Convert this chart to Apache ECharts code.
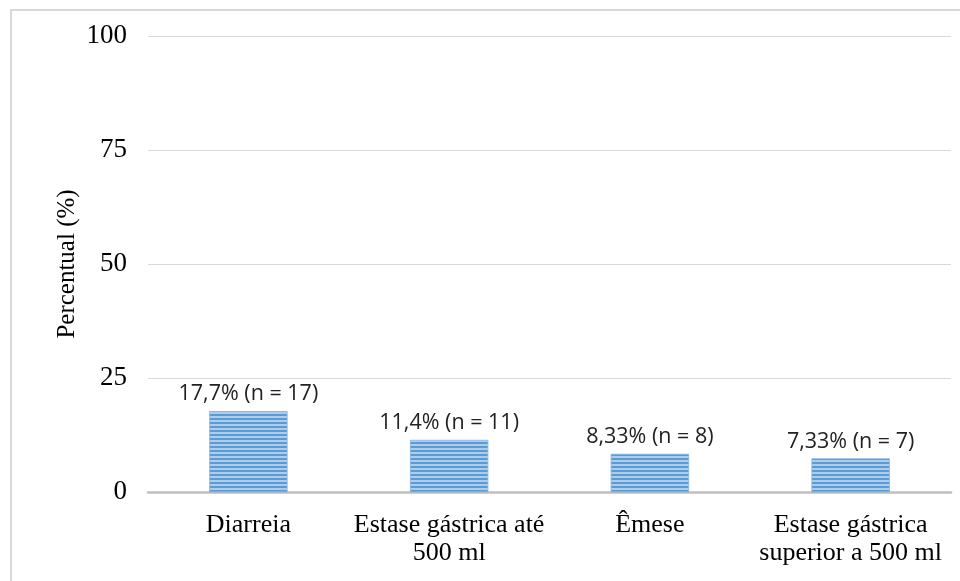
<!DOCTYPE html>
<html><head><meta charset="utf-8">
<script src="https://cdn.jsdelivr.net/npm/echarts@6/dist/echarts.min.js"></script>
<style>html,body{margin:0;padding:0;background:#fff}#c{width:960px;height:581px}</style>
</head><body><div id="c"></div>
<script>
var categories = ['Diarreia', 'Estase gástrica até\n500 ml', 'Êmese', 'Estase gástrica\nsuperior a 500 ml'];
var values = [17.7, 11.4, 8.33, 7.33];
var barLabels = ['17,7% (n = 17)', '11,4% (n = 11)', '8,33% (n = 8)', '7,33% (n = 7)'];
var yTicks = [0, 25, 50, 75, 100];

var chart = echarts.init(document.getElementById('c'), null, {renderer: 'canvas'});
chart.setOption({
  backgroundColor: '#fff',
  animation: false,
  graphic: [{
    type: 'polyline', shape: {points: [[11, 600], [11, 10], [980, 10]]},
    style: {stroke: '#d9d9d9', lineWidth: 2, fill: null}
  }],
  grid: {left: 148, right: 9, top: 36, bottom: 89, containLabel: false},
  xAxis: {
    type: 'category', data: categories,
    axisLine: {lineStyle: {color: '#bfbfbf', width: 2.5}},
    axisTick: {show: false},
    axisLabel: {color: '#000', fontFamily: 'Liberation Serif', fontSize: 26, lineHeight: 28, margin: 19,
      interval: 0, hideOverlap: false}
  },
  yAxis: {
    type: 'value', min: 0, max: 100, interval: 25,
    name: 'Percentual (%)', nameLocation: 'middle', nameGap: 68, nameMoveOverlap: false,
    nameTextStyle: {color: '#000', fontFamily: 'Liberation Serif', fontSize: 25},
    axisLine: {show: false}, axisTick: {show: false},
    axisLabel: {color: '#000', fontFamily: 'Liberation Serif', fontSize: 27, margin: 21,
      formatter: function (v) { return yTicks.indexOf(v) >= 0 ? String(v) : ''; }},
    splitLine: {lineStyle: {color: '#d9d9d9', width: 1}}
  },
  series: [{
    type: 'bar', data: values, barWidth: 78,
    itemStyle: {
      color: '#5b9bd5',
      borderColor: '#7fb0e0', borderWidth: 0.5,
      decal: {symbol: 'rect', symbolSize: 1, dashArrayX: [1, 0], dashArrayY: [2, 2], rotation: 0, color: 'rgba(255,255,255,0.5)'}
    },
    label: {
      show: true, position: 'top', distance: 6, color: '#222',
      fontFamily: 'Open Sans', fontSize: 21.5,
      formatter: function (p) { return barLabels[p.dataIndex]; }
    }
  }]
});
</script></body></html>
